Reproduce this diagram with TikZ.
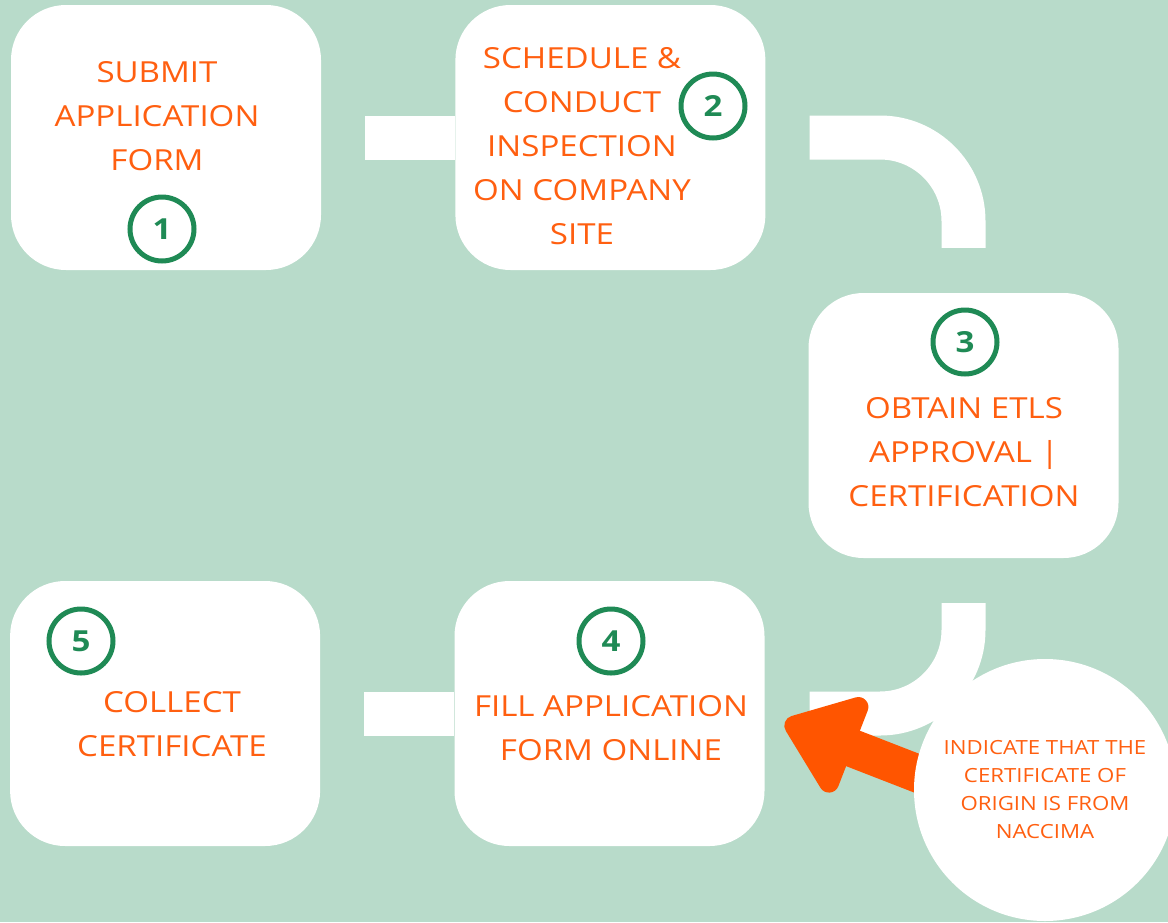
\documentclass[tikz,border=0pt]{standalone}
\usepackage{fontspec}
\setmainfont[FakeStretch=1.14]{Open Sans}
\usepackage{xcolor}
\usetikzlibrary{arrows.meta, positioning}
\definecolor{bgmint}{HTML}{B8DBCA}
\definecolor{txtorange}{HTML}{FF5F10}
\definecolor{arroworange}{HTML}{FF5500}
\definecolor{numgreen}{HTML}{1F8A55}
\tikzset{
  stepbox/.style={rectangle, rounded corners=55pt, minimum width=310pt, minimum height=265pt, fill=white, inner sep=0pt},
  steptext/.style={text=txtorange, align=center, font=\fontsize{29}{44}\selectfont, inner sep=0pt},
  num/.style={circle, draw=numgreen, line width=5pt, minimum size=64pt, inner sep=0pt, text=numgreen, font=\fontsize{29}{29}\selectfont\bfseries},
  link/.style={white, line width=44pt, line cap=butt},
  note/.style={circle, fill=white, minimum size=262pt, inner sep=0pt, text=txtorange, align=center, font=\fontsize{19.5}{28}\selectfont},
  bigarrow/.style={arroworange, line width=38pt, -{Triangle[length=80pt, width=116pt, round]}}
}
\begin{document}
\begin{tikzpicture}[x=1pt, y=-1pt]
\useasboundingbox (0,0) rectangle (1168,922);
\fill[bgmint] (0,0) rectangle (1168,922);

% Steps
\node (submit) [stepbox] at (166,137.5) {};
\node (schedule) [stepbox, right=134pt of submit] {};
\node (obtain) [stepbox] at (963.5,425.5) {};
\node (fill) [stepbox] at (609.5,713.5) {};
\node (collect) [stepbox, left=134pt of fill] {};

% Links
\draw [link, shorten <=44pt] (submit) -- (schedule);
\draw [link, rounded corners=83.5pt, shorten <=44pt, shorten >=45pt] (schedule.east) -| (obtain.north);
\draw [link, rounded corners=83.5pt, shorten <=45pt, shorten >=45pt] (obtain.south) |- (fill.east);
\draw [link, shorten <=44pt] (collect) -- (fill);

% Texts
\node (submittext) [steptext] at (157,116) {SUBMIT\\APPLICATION\\FORM};
\node (scheduletext) [steptext] at (582,146) {SCHEDULE \&\\CONDUCT\\INSPECTION\\ON COMPANY\\SITE};
\node (obtaintext) [steptext] at (964,452) {OBTAIN ETLS\\APPROVAL |\\CERTIFICATION};
\node (filltext) [steptext] at (611,728) {FILL APPLICATION\\FORM ONLINE};
\node (collecttext) [steptext] at (172,724) {COLLECT\\CERTIFICATE};

% Numbers
\node (n1) [num] at (162,229) {1};
\node (n2) [num] at (713,106) {2};
\node (n3) [num] at (965,342) {3};
\node (n4) [num] at (611,641) {4};
\node (n5) [num] at (81,641) {5};

% Note
\coordinate (tail) at (960,790);
\coordinate (tip) at (785,722);
\draw [bigarrow] (tail) -- (tip);
\node (naccima) [note] at (1045,790) {INDICATE THAT THE\\CERTIFICATE OF\\ORIGIN IS FROM\\NACCIMA};

\end{tikzpicture}
\end{document}
